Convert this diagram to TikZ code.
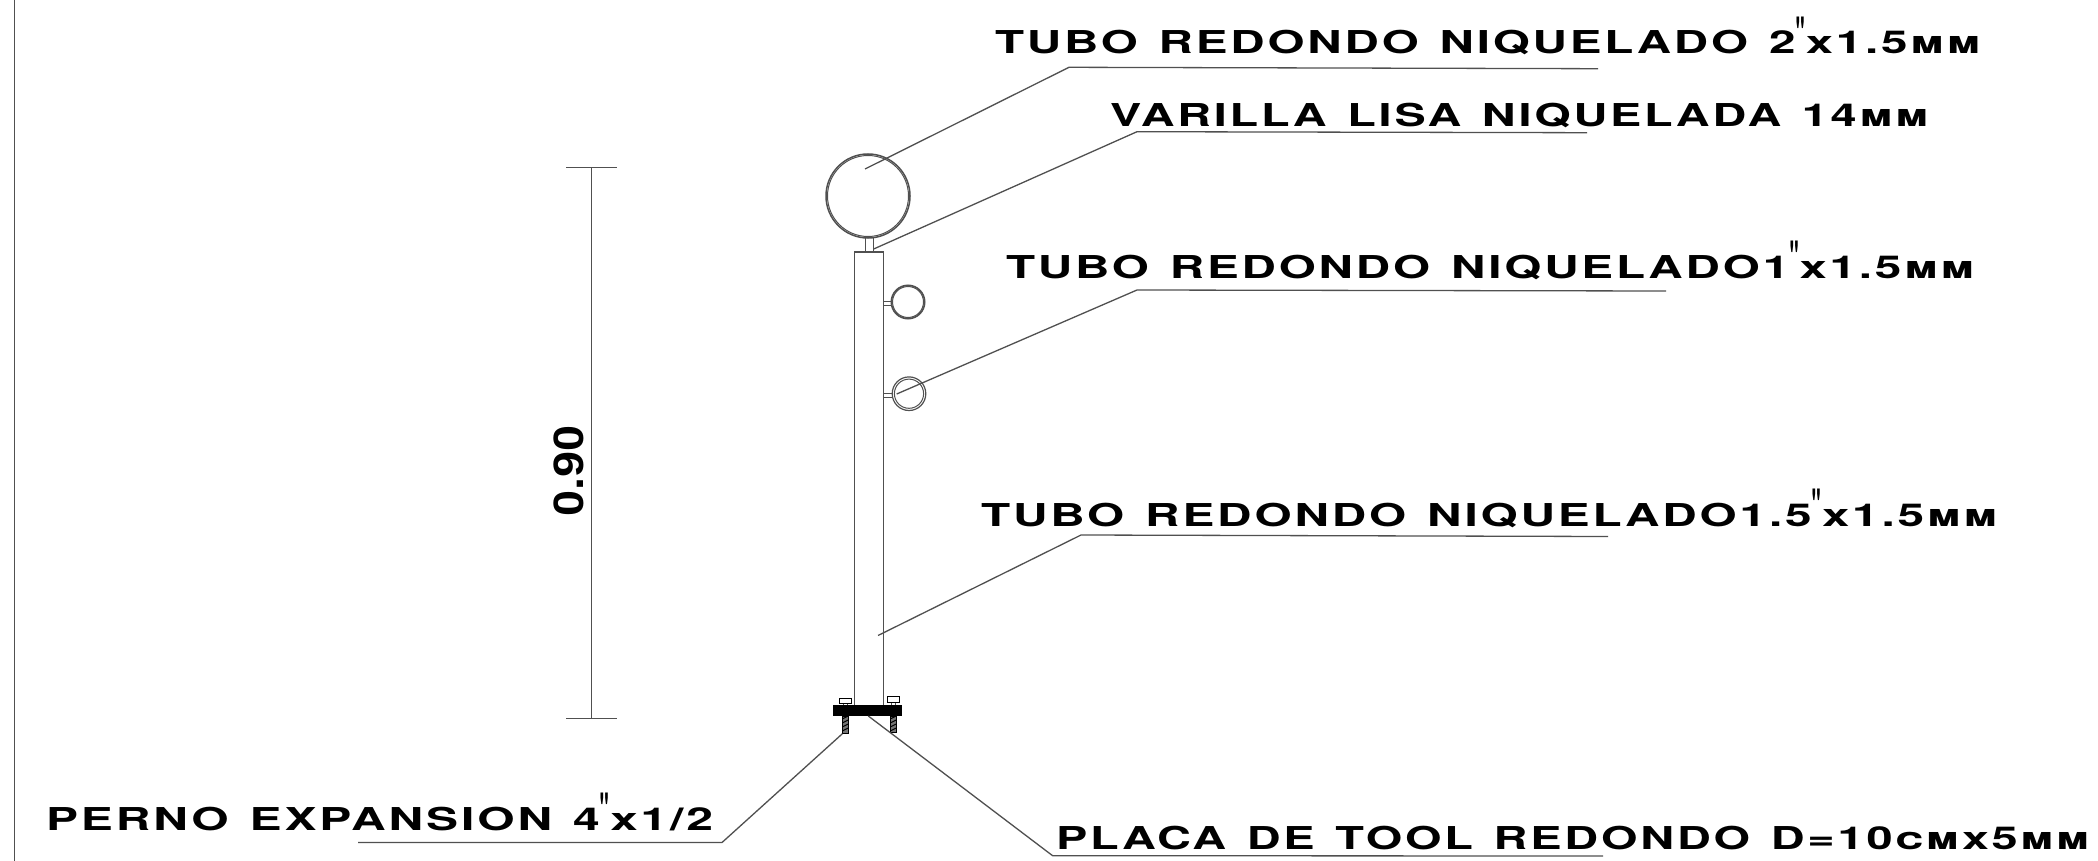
\documentclass[tikz,border=0pt]{standalone}
\usepackage{fontspec}
\usepackage{graphicx}
\setmainfont{TeX Gyre Heros}[LetterSpace=6,WordSpace=1.3]
\newfontfamily\dimfont{Liberation Sans}[Scale=1]
\newfontfamily\qmfont{TeX Gyre Heros}
\newcommand{\fitw}[2]{\resizebox{#1}{\height}{#2}}
\newcommand{\qm}{\raisebox{.1em}{\scalebox{.6}[1.5]{\mdseries\qmfont"}}}
\definecolor{ln}{HTML}{505050}
\tikzset{
  lab/.style={anchor=base west,inner sep=0pt,outer sep=0pt,text=black,font=\bfseries\fontsize{31.5}{31.5}\selectfont},
  leader/.style={draw=ln,line width=1.3pt,line join=miter},
  part/.style={draw=ln,line width=1.2pt},
  fine/.style={draw=ln,line width=1pt},
  boltthread/.style={draw=black,fill=black!55,line width=.8pt},
  bolthead/.style={draw=black,fill=white,line width=1pt},
}
\begin{document}
\begin{tikzpicture}[x=1pt,y=-1pt]
\useasboundingbox (0,0) rectangle (2098,861);
\fill[white] (0,0) rectangle (2098,861);
% frame line
\coordinate (fa) at (14.5,0); \coordinate (fb) at (14.5,861);
\draw[fine,line width=.9pt] (fa) -- (fb);
% post
\draw[part] (854.7,705) -- (854.7,252) -- (883.7,252) -- (883.7,705);
% top rail and stem
\draw[part] (865.5,238) -- (865.5,252) (873.7,238) -- (873.7,252);
\draw[part,line width=1.5pt] (868,196) circle (42pt);
\draw[fine] (868,196) circle (40.5pt);
% rail 1
\draw[part,line width=1.6pt] (908,302) circle (16.7pt);
\draw[fine] (908,302) circle (15.5pt);
\draw[fine] (883.7,301.5) -- (891.5,301.5) (883.7,305) -- (891.5,305);
% rail 2
\draw[part] (909,393.7) circle (16.8pt);
\draw[fine] (909,393.7) circle (14.6pt);
\draw[fine] (883.7,393) -- (892.5,393) (883.7,397) -- (892.5,397);
% base plate
\fill[black] (832.7,705) rectangle (901.7,716);
% bolts
\node[boltthread,minimum width=6pt,minimum height=17pt,inner sep=0pt,anchor=north west] (bl) at (842.3,716) {};
\node[boltthread,minimum width=6pt,minimum height=16pt,inner sep=0pt,anchor=north west] (br) at (890.3,716) {};
\foreach \yy in {719,723,727,731}{
  \draw[black,line width=1pt] (842.3,\yy) -- (848.3,\yy-3);
  \draw[black,line width=1pt] (890.3,\yy) -- (896.3,\yy-3);
}
\draw[fine] (843,703) -- (843,705) (847.5,703) -- (847.5,705) (891,702) -- (891,705) (895.5,702) -- (895.5,705);
\node[bolthead,minimum width=12pt,minimum height=5.6pt,inner sep=0pt,anchor=north west] (hl) at (839,697.7) {};
\node[bolthead,minimum width=12pt,minimum height=6pt,inner sep=0pt,anchor=north west] (hr) at (887,696) {};
% dimension
\coordinate (da) at (591.5,167.3); \coordinate (db) at (591.5,718.5);
\draw[fine] (da) -- (db);
\draw[fine] (566,167.3) -- (617,167.3) (566,718.5) -- (617,718.5);
\node[rotate=90,inner sep=0pt,font=\dimfont\bfseries\fontsize{42.5}{42.5}\selectfont] (dim) at (568.8,470.5) {\fitw{91pt}{0.90}};
% leaders
\coordinate (l1a) at (865,169); \coordinate (l1b) at (1069,67.3); \coordinate (l1c) at (1598,68.7);
\draw[leader] (l1a) -- (l1b) -- (l1c);
\coordinate (l2a) at (873.7,249); \coordinate (l2b) at (1137,131.7); \coordinate (l2c) at (1587,132.7);
\draw[leader] (l2a) -- (l2b) -- (l2c);
\coordinate (l3a) at (896.7,394); \coordinate (l3b) at (1137,290); \coordinate (l3c) at (1666,291);
\draw[leader] (l3a) -- (l3b) -- (l3c);
\coordinate (l4a) at (878,635.5); \coordinate (l4b) at (1081,535); \coordinate (l4c) at (1608,536.5);
\draw[leader] (l4a) -- (l4b) -- (l4c);
\coordinate (l5b) at (722,842.5); \coordinate (l5c) at (358,842.5);
\draw[leader] (bl.south west) -- (l5b) -- (l5c);
\coordinate (l6a) at (868.3,716); \coordinate (l6b) at (1052.6,855.7); \coordinate (l6c) at (1603,856);
\draw[leader] (l6a) -- (l6b) -- (l6c);
% labels
\node[lab] (t1) at (995,54) {\fitw{988pt}{TUBO REDONDO NIQUELADO 2\qm\textsc{x}1.5\textsc{mm}}};
\node[lab] (t2) at (1110,127) {\fitw{821pt}{VARILLA LISA NIQUELADA 14\textsc{mm}}};
\node[lab] (t3) at (1006,278) {\fitw{971pt}{TUBO REDONDO NIQUELADO1\qm\textsc{x}1.5\textsc{mm}}};
\node[lab] (t4) at (981,526) {\fitw{1019pt}{TUBO REDONDO NIQUELADO1.5\qm\textsc{x}1.5\textsc{mm}}};
\node[lab] (t5) at (46,830) {\fitw{667pt}{PERNO EXPANSION 4\qm\textsc{x}1/2}};
\node[lab] (t6) at (1056,849) {\fitw{1036pt}{PLACA DE TOOL REDONDO D=10\textsc{cmx}5\textsc{mm}}};
\end{tikzpicture}
\end{document}
